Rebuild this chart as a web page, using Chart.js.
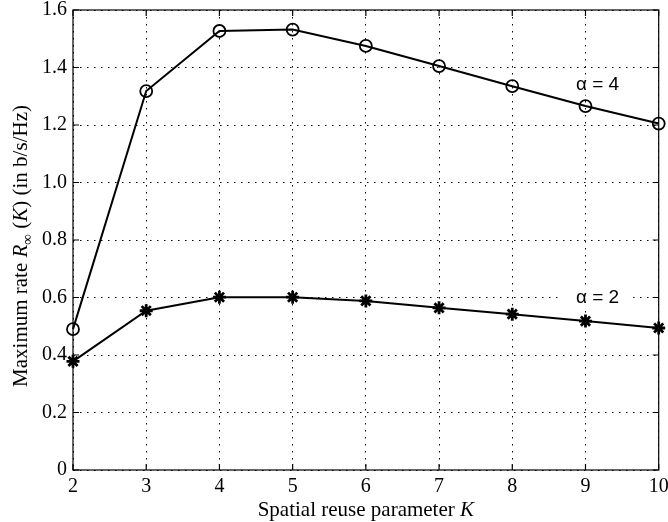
<!DOCTYPE html>
<html><head><meta charset="utf-8">
<script src="https://cdn.jsdelivr.net/npm/chart.js@4"></script>
<style>html,body{margin:0;padding:0;background:#fff}#c{display:block}</style>
</head><body>
<canvas id="c" width="668" height="522"></canvas>
<script>
const K = [2,3,4,5,6,7,8,9,10];
const rateAlpha4 = [0.49,1.318,1.527,1.532,1.475,1.405,1.335,1.266,1.205];
const rateAlpha2 = [0.378,0.554,0.601,0.601,0.588,0.564,0.542,0.518,0.494];
const yTicks = [0,0.2,0.4,0.6,0.8,1.0,1.2,1.4,1.6];
const xTicks = [2,3,4,5,6,7,8,9,10];
const seriesLabels = ['\u03b1 = 4','\u03b1 = 2'];
const FONT = '"Liberation Serif","Times New Roman",serif';
const SANS = '"Liberation Sans",Arial,sans-serif';

const decor = {
  id:'decor',
  afterDraw(chart){
    const ctx = chart.ctx, a = chart.chartArea;
    const xs = chart.scales.x, ys = chart.scales.y;
    ctx.save();
    ctx.strokeStyle='#000'; ctx.lineWidth=1.2;
    ctx.strokeRect(a.left,a.top,a.right-a.left,a.bottom-a.top);
    const tl=6;
    ctx.beginPath();
    xTicks.forEach(v=>{const x=xs.getPixelForValue(v);ctx.moveTo(x,a.bottom);ctx.lineTo(x,a.bottom-tl);ctx.moveTo(x,a.top);ctx.lineTo(x,a.top+tl);});
    yTicks.forEach(v=>{const y=ys.getPixelForValue(v);ctx.moveTo(a.left,y);ctx.lineTo(a.left+tl,y);ctx.moveTo(a.right,y);ctx.lineTo(a.right-tl,y);});
    ctx.stroke();
    const N='21px '+FONT, I='italic 21px '+FONT, S='15px '+FONT;
    ctx.fillStyle='#000';
    ctx.textAlign='left'; ctx.textBaseline='alphabetic';
    const xt=[['Spatial reuse parameter ',N],['K',I]];
    let tot=0; xt.forEach(p=>{ctx.font=p[1];tot+=ctx.measureText(p[0]).width;});
    let px=(a.left+a.right)/2-tot/2;
    xt.forEach(p=>{ctx.font=p[1];ctx.fillText(p[0],px,516);px+=ctx.measureText(p[0]).width;});
    ctx.save();
    ctx.translate(27,246);
    ctx.rotate(-Math.PI/2);
    const yt=[['Maximum rate ',N],['R',I],['\u221e',S,5],[' (',N],['K',I],[') (in b/s/Hz)',N]];
    let total=0; yt.forEach(p=>{ctx.font=p[1];total+=ctx.measureText(p[0]).width;});
    let cx=-total/2;
    yt.forEach(p=>{ctx.font=p[1];ctx.fillText(p[0],cx,p[2]||0);cx+=ctx.measureText(p[0]).width;});
    ctx.restore();
    ctx.restore();
  }
};

const labels = {
  id:'seriesLabels',
  beforeDatasetsDraw(chart){
    const ctx = chart.ctx;
    const xs = chart.scales.x, ys = chart.scales.y;
    ctx.save();
    ctx.font='19px '+SANS;
    ctx.textAlign='left'; ctx.textBaseline='middle';
    const drawLab=(txt,xv,yv)=>{
      const x=xs.getPixelForValue(xv), y=ys.getPixelForValue(yv);
      const w=ctx.measureText(txt).width;
      ctx.fillStyle='#fff';ctx.fillRect(x-18,y-10,w+32,20);
      ctx.fillStyle='#000';
      ctx.fillText(txt,x,y);
    };
    drawLab(seriesLabels[0],8.87,1.34);
    drawLab(seriesLabels[1],8.87,0.6);
    ctx.restore();
  }
};

new Chart(document.getElementById('c'),{
  type:'line',
  data:{datasets:[
    {label:seriesLabels[0],data:K.map((k,i)=>({x:k,y:rateAlpha4[i]})),borderColor:'#000',borderWidth:2,pointStyle:'circle',pointRadius:6,pointBorderWidth:1.8,pointBackgroundColor:'rgba(0,0,0,0)',pointBorderColor:'#000',tension:0,clip:false},
    {label:seriesLabels[1],data:K.map((k,i)=>({x:k,y:rateAlpha2[i]})),borderColor:'#000',borderWidth:2,pointStyle:'star',pointRadius:6.5,pointBorderWidth:2.8,pointBackgroundColor:'#000',pointBorderColor:'#000',tension:0,clip:false}
  ]},
  options:{
    responsive:false,animation:false,
    layout:{padding:{top:10,right:9,left:0,bottom:0}},
    plugins:{legend:{display:false},tooltip:{enabled:false}},
    scales:{
      x:{type:'linear',min:2,max:10,
        afterBuildTicks(s){s.ticks=xTicks.map(v=>({value:v}));},
        afterFit(s){s.height=52;s.paddingLeft=0;s.paddingRight=0;},
        border:{display:false,dash:[1.5,5.5]},
        grid:{color:'#000',lineWidth:1,drawTicks:false},
        ticks:{color:'#000',font:{family:FONT,size:20},padding:5,maxRotation:0,callback:v=>String(v)}
      },
      y:{type:'linear',min:0,max:1.6,
        afterBuildTicks(s){s.ticks=yTicks.map(v=>({value:v}));},
        afterFit(s){s.width=73;s.paddingTop=0;s.paddingBottom=0;},
        border:{display:false,dash:[1.5,5.5]},
        grid:{color:'#000',lineWidth:1,drawTicks:false},
        ticks:{color:'#000',font:{family:FONT,size:20},padding:6,callback:v=>v===0?'0':v.toFixed(1)}
      }
    }
  },
  plugins:[labels,decor]
});
</script>
</body></html>
